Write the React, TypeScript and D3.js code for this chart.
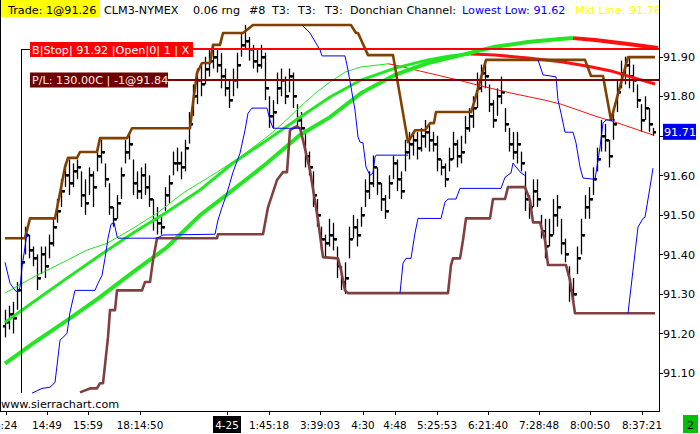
import React from 'react';
import * as d3 from 'd3';

// ---------- DATA ----------
const barHigh = [91.26,91.27,91.28,91.33,91.40,91.47,91.45,91.42,91.40,91.42,91.42,91.45,91.49,91.54,91.59,91.63,91.64,91.63,91.64,91.61,91.59,91.62,91.61,91.67,91.69,91.63,91.58,91.52,91.55,91.62,91.69,91.71,91.64,91.61,91.62,91.63,91.60,91.54,91.52,91.50,91.57,91.60,91.66,91.67,91.66,91.69,91.76,91.83,91.87,91.88,91.90,91.92,91.93,91.92,91.91,91.87,91.84,91.87,91.91,91.96,91.98,91.95,91.93,91.92,91.93,91.91,91.80,91.79,91.86,91.87,91.85,91.87,91.86,91.78,91.76,91.71,91.66,91.61,91.54,91.47,91.45,91.49,91.48,91.42,91.37,91.38,91.47,91.50,91.49,91.52,91.59,91.61,91.65,91.62,91.58,91.55,91.60,91.65,91.64,91.61,91.69,91.71,91.71,91.71,91.72,91.74,91.73,91.71,91.70,91.64,91.63,91.67,91.71,91.69,91.70,91.75,91.77,91.80,91.86,91.88,91.89,91.83,91.79,91.82,91.85,91.77,91.72,91.71,91.71,91.66,91.61,91.55,91.59,91.59,91.50,91.49,91.49,91.54,91.55,91.49,91.44,91.37,91.34,91.42,91.49,91.55,91.57,91.62,91.67,91.74,91.73,91.69,91.76,91.84,91.89,91.90,91.90,91.88,91.83,91.78,91.80,91.77,91.72];
const barLow = [91.19,91.21,91.20,91.26,91.32,91.40,91.39,91.37,91.31,91.35,91.34,91.39,91.42,91.48,91.52,91.57,91.55,91.57,91.59,91.52,91.50,91.55,91.52,91.61,91.63,91.57,91.50,91.47,91.49,91.54,91.63,91.64,91.55,91.54,91.54,91.55,91.52,91.46,91.45,91.45,91.51,91.53,91.60,91.61,91.59,91.61,91.68,91.75,91.78,91.80,91.83,91.85,91.87,91.86,91.82,91.80,91.77,91.80,91.82,91.90,91.92,91.89,91.87,91.86,91.87,91.79,91.72,91.72,91.78,91.80,91.78,91.81,91.77,91.72,91.70,91.62,91.60,91.52,91.47,91.41,91.39,91.42,91.41,91.34,91.31,91.30,91.39,91.44,91.42,91.47,91.52,91.54,91.57,91.55,91.51,91.49,91.54,91.59,91.56,91.54,91.61,91.64,91.65,91.64,91.66,91.67,91.66,91.66,91.61,91.60,91.57,91.61,91.64,91.62,91.63,91.68,91.71,91.72,91.77,91.81,91.82,91.76,91.72,91.75,91.78,91.71,91.66,91.64,91.63,91.61,91.51,91.49,91.52,91.52,91.44,91.39,91.42,91.45,91.47,91.40,91.38,91.28,91.28,91.35,91.40,91.49,91.49,91.55,91.61,91.66,91.66,91.62,91.69,91.76,91.82,91.83,91.82,91.81,91.77,91.71,91.74,91.71,91.70];
const barClose = [91.23,91.25,91.24,91.31,91.38,91.45,91.41,91.39,91.34,91.40,91.37,91.43,91.47,91.51,91.56,91.60,91.58,91.61,91.62,91.55,91.53,91.60,91.57,91.65,91.66,91.59,91.52,91.49,91.53,91.60,91.66,91.68,91.58,91.56,91.60,91.57,91.54,91.49,91.48,91.47,91.55,91.58,91.63,91.63,91.62,91.67,91.73,91.80,91.84,91.83,91.87,91.89,91.90,91.88,91.85,91.82,91.79,91.84,91.88,91.93,91.94,91.92,91.89,91.88,91.90,91.82,91.75,91.76,91.82,91.84,91.80,91.85,91.80,91.74,91.72,91.65,91.62,91.55,91.50,91.44,91.43,91.45,91.44,91.37,91.33,91.34,91.44,91.47,91.45,91.50,91.56,91.58,91.62,91.58,91.54,91.51,91.58,91.63,91.59,91.56,91.66,91.68,91.69,91.67,91.70,91.71,91.69,91.68,91.64,91.62,91.59,91.64,91.68,91.65,91.66,91.72,91.75,91.77,91.82,91.86,91.85,91.78,91.74,91.80,91.81,91.73,91.68,91.66,91.68,91.63,91.54,91.52,91.56,91.54,91.46,91.42,91.45,91.50,91.52,91.43,91.40,91.31,91.30,91.39,91.45,91.52,91.54,91.59,91.64,91.70,91.69,91.65,91.73,91.81,91.86,91.88,91.85,91.84,91.79,91.74,91.77,91.73,91.71];
const firstOpen = 91.22;

// Donchian upper (highest high) [bar index, price]
const upperChannel: [number, number][] = [[0,91.441],[5,91.441],[6.25,91.491],[12.5,91.491],[13.75,91.555],[15,91.621],[15.75,91.644],[18,91.644],[18.75,91.659],[23,91.659],[23.75,91.694],[30.5,91.694],[31.75,91.719],[46.25,91.719],[47,91.783],[48,91.859],[49.25,91.884],[51.25,91.884],[52,91.930],[53.75,91.930],[54.5,91.960],[59.5,91.960],[62,91.980],[86.5,91.980],[87.75,91.960],[88.25,91.960],[90.75,91.904],[97,91.904],[100.75,91.684],[102.5,91.714],[105,91.714],[106.25,91.732],[107.25,91.732],[107.75,91.760],[116.5,91.760],[117.25,91.783],[120.25,91.892],[145,91.892],[146.5,91.851],[149.5,91.851],[151.5,91.740],[155.75,91.899],[162.5,91.899]];

// lower channel
const lowerChannel: [number, number][] = [[18.75,91.051],[21.25,91.061],[23,91.061],[23.75,91.074],[24.5,91.074],[25.75,91.190],[26.25,91.259],[27.5,91.259],[28,91.309],[34.25,91.309],[35,91.330],[36.25,91.330],[37,91.385],[38,91.441],[53,91.441],[53.25,91.451],[64.5,91.451],[65.75,91.519],[68,91.588],[69.5,91.608],[70.5,91.608],[71.25,91.714],[72,91.719],[73,91.724],[73.75,91.719],[74.5,91.689],[76.25,91.613],[78.25,91.487],[79.5,91.393],[83.25,91.390],[84,91.360],[85,91.309],[85.75,91.302],[110.75,91.302],[111.5,91.373],[112,91.390],[113.75,91.390],[114.5,91.436],[115.25,91.491],[121.25,91.491],[122,91.540],[125,91.540],[125.75,91.570],[130,91.570],[131.25,91.537],[132,91.481],[133.75,91.481],[135,91.436],[135.75,91.373],[140.25,91.373],[141.25,91.335],[142.5,91.251],[162.5,91.251]];

// blue line (lowest low), drawn in pieces
const blueSegments: [number, number][][] = [
  [[0,91.380],[1.25,91.327],[2.5,91.309],[3.25,91.304],[3.75,91.317],[4.25,91.367],[5.5,91.454]],
  [[6.75,91.049],[9.25,91.061],[11.25,91.064],[12.5,91.076],[13.75,91.183],[15.5,91.200],[16.25,91.254],[17.5,91.309],[22.5,91.309],[23.25,91.327],[24.25,91.347],[25,91.390],[25.75,91.441],[26.5,91.476],[27.25,91.481],[28,91.446],[28.25,91.441],[38,91.441],[39.5,91.449],[52.5,91.451],[53.25,91.487],[54.25,91.519],[55.5,91.555],[57,91.608],[58.75,91.656],[60,91.714],[60.75,91.757],[61.75,91.770],[65.5,91.770],[66.25,91.740],[67,91.719],[73.75,91.719]],
  [[74.25,91.980],[76.25,91.960],[78.75,91.917],[79.25,91.902],[85,91.902],[85.75,91.866],[86.5,91.823],[87.5,91.765],[88.25,91.697],[88.75,91.684],[89.5,91.682],[90.25,91.621],[91.25,91.600],[92,91.606],[92.5,91.646],[92.75,91.651],[100.75,91.651]],
  [[98.75,91.302],[99.5,91.378],[100.25,91.390],[101.5,91.390],[102.5,91.454],[103.25,91.491],[109,91.491],[110,91.532],[110.75,91.540],[112.75,91.540],[113.75,91.567],[124,91.567],[125,91.595],[126.5,91.606],[127,91.631],[127.75,91.621],[129,91.606],[130,91.600]],
  [[133.25,91.892],[134.5,91.854],[137.75,91.849],[138.25,91.790],[139,91.757],[140,91.709],[142,91.709],[142.75,91.682],[143.75,91.621],[144.5,91.593],[147.5,91.590],[148.25,91.638],[148.75,91.671],[149.5,91.732],[150.25,91.740],[152.5,91.740]],
  [[155.75,91.251],[157,91.360],[158.25,91.469],[159.5,91.491],[160,91.494],[161.25,91.570],[162,91.618]],
];

// moving averages; color turns red after the peak index
const maThin: [number, number][] = [[0,91.302],[7,91.342],[15.5,91.385],[20.5,91.411],[25.5,91.428],[32,91.466],[38,91.504],[44.5,91.555],[53,91.608],[58.75,91.646],[65.5,91.697],[69.5,91.732],[73.75,91.773],[78,91.811],[81.25,91.836],[85,91.861],[89,91.874],[93.25,91.879],[95.75,91.882],[97.5,91.879],[101.5,91.869],[105.75,91.859],[113.25,91.841],[118.25,91.828],[126.5,91.808],[135,91.790],[139,91.780],[147.5,91.750],[153.25,91.732],[162,91.702]];
const maThinPeak = 18;
const maMid: [number, number][] = [[0,91.228],[7,91.279],[15.5,91.340],[23.75,91.398],[32,91.454],[40.5,91.507],[48.75,91.563],[57,91.631],[65.5,91.689],[73.75,91.747],[81.25,91.798],[89,91.841],[97.5,91.871],[105.75,91.892],[111.25,91.902],[116.5,91.907],[122.5,91.904],[130.75,91.897],[139,91.887],[145.75,91.876],[151.5,91.864],[155.75,91.851],[162.5,91.831]];
const maMidPeak = 15;
const maThick: [number, number][] = [[0,91.124],[7,91.175],[15.5,91.233],[23.75,91.292],[32,91.355],[40.5,91.418],[48.75,91.499],[57,91.563],[65.5,91.631],[73.75,91.702],[81.25,91.747],[89,91.808],[97.5,91.854],[105.75,91.884],[114,91.904],[122.5,91.925],[130.75,91.937],[138.75,91.945],[142,91.947],[147.5,91.942],[155.75,91.932],[163.25,91.922]];
const maThickPeak = 18;

const yTicks = [91.10, 91.20, 91.30, 91.40, 91.50, 91.60, 91.70, 91.80, 91.90];
const timeLabels = ['4:24','14:49','15:59','18:14:50','4-25','1:45:18','3:39:03','4:30','4:48','5:25:53','6:21:40','7:28:48','8:00:50','8:37:21'];
const timeLabelBars = [0.15, 10.5, 20.75, 33.75, 55.5, 66, 78.75, 89.5, 97.5, 108, 120.75, 133.5, 146.25, 159.25];
const dateLabel = '4-25';

const entryBar = 4;
const stopPrice = 91.92;
const plPrice = 91.84;
const lastPrice = 91.71;

const headerParts: { text: string; color: string; x: number }[] = [
  { text: 'Trade: 1@91.26', color: '#000', x: 8 },
  { text: 'CLM3-NYMEX', color: '#000', x: 104 },
  { text: '0.06 rng', color: '#000', x: 193 },
  { text: '#8', color: '#000', x: 249 },
  { text: 'T3:', color: '#000', x: 272 },
  { text: 'T3:', color: '#000', x: 298 },
  { text: 'T3:', color: '#000', x: 325 },
  { text: 'Donchian Channel:', color: '#000', x: 350 },
  { text: 'Lowest Low: 91.62', color: '#0000ff', x: 462 },
  { text: 'Mid Line: 91.76', color: '#ffff00', x: 575 },
];

const FONT = "'DejaVu Sans', Verdana, sans-serif";

export default function App() {
  const plotRight = 659;
  const plotBottom = 412;
  const clipBottom = 394;
  const x = d3.scaleLinear().domain([0, 162]).range([5, 653]);
  const y = d3.scaleLinear().domain([91.10, 91.90]).range([373, 56.7]);
  const line = d3.line<[number, number]>().x(d => x(d[0])).y(d => y(d[1]));

  const maParts = (pts: [number, number][], peak: number) => [pts.slice(0, peak + 1), pts.slice(peak)];
  const [thinUp, thinDn] = maParts(maThin, maThinPeak);
  const [midUp, midDn] = maParts(maMid, maMidPeak);
  const [thkUp, thkDn] = maParts(maThick, maThickPeak);

  const GREEN = '#22e622';
  const RED = '#ff1010';

  const entryX = Math.round(x(entryBar)) + 0.5;
  const stopY = Math.round(y(stopPrice));
  const plY = Math.round(y(plPrice));
  const boxL = entryX + 8.5;
  const hiddenTick = 91.70;

  return (
    <svg width={700} height={434} style={{ position: 'absolute', left: 0, top: 0, background: '#fff' }} fontFamily={FONT}>
      <defs>
        <clipPath id="plot"><rect x={1} y={18} width={plotRight - 1} height={clipBottom - 18} /></clipPath>
        <clipPath id="hdr"><rect x={0} y={0} width={plotRight} height={20} /></clipPath>
      </defs>
      <rect x={0} y={0} width={700} height={434} fill="#fff" />

      <g clipPath="url(#plot)">
        {/* price bars */}
        {barHigh.map((h, i) => {
          const cx = Math.round(x(i)) + 0.5;
          const open = i === 0 ? firstOpen : barClose[i - 1];
          return (
            <g key={i}>
              <line x1={cx} x2={cx} y1={y(h)} y2={y(barLow[i])} stroke="#000" strokeWidth={1.3} />
              <rect x={cx - 2.5} y={Math.round(y(open)) - 1} width={2} height={2.5} fill="#000" />
              <rect x={cx + 0.5} y={Math.round(y(barClose[i])) - 1} width={2} height={2.5} fill="#000" />
            </g>
          );
        })}

        {/* moving averages */}
        <path d={line(thinUp) || ''} fill="none" stroke={GREEN} strokeWidth={1} />
        <path d={line(thinDn) || ''} fill="none" stroke={RED} strokeWidth={1} />
        <path d={line(midUp) || ''} fill="none" stroke={GREEN} strokeWidth={3} />
        <path d={line(midDn) || ''} fill="none" stroke={RED} strokeWidth={3} />
        <path d={line(thkUp) || ''} fill="none" stroke={GREEN} strokeWidth={4} />
        <path d={line(thkDn) || ''} fill="none" stroke={RED} strokeWidth={4} />

        {/* channels */}
        <path d={line(upperChannel) || ''} fill="none" stroke="#804000" strokeWidth={2.6} strokeLinejoin="round" />
        <path d={line(lowerChannel) || ''} fill="none" stroke="#804040" strokeWidth={2.6} strokeLinejoin="round" />
        {blueSegments.map((s, k) => (
          <path key={k} d={line(s) || ''} fill="none" stroke="#0000ff" strokeWidth={1} />
        ))}

        {/* trade marker */}
        <line x1={entryX} x2={entryX} y1={stopY} y2={clipBottom - 1} stroke="#000" strokeWidth={1} />
        <line x1={entryX} x2={boxL} y1={stopY + 0.5} y2={stopY + 0.5} stroke="#000" strokeWidth={1} />
      </g>

      {/* stop line & box */}
      <line x1={boxL + 150} x2={plotRight} y1={stopY} y2={stopY} stroke="#ff0000" strokeWidth={2} />
      <rect x={boxL} y={stopY - 7} width={163} height={15} fill="#ff0000" />
      <text x={boxL + 2} y={stopY + 4.5} fontSize={11.2} fill="#fff">B|Stop| 91.92 |Open|0| 1 | X</text>

      {/* P/L line & box */}
      <line x1={boxL + 130} x2={plotRight} y1={plY} y2={plY} stroke="#800000" strokeWidth={2} />
      <rect x={boxL} y={plY - 7.5} width={138} height={15} fill="#6e0000" />
      <text x={boxL + 2} y={plY + 4} fontSize={11.2} fill="#ffeaea">P/L: 130.00C | -1@91.84</text>

      {/* header */}
      <g clipPath="url(#hdr)">
        <rect x={0} y={0} width={100} height={17} fill="#ffff00" />
        {headerParts.map((p, i) => (
          <text key={i} x={p.x} y={14} fontSize={11.2} fill={p.color}>{p.text}</text>
        ))}
      </g>

      {/* borders */}
      <line x1={0.5} x2={0.5} y1={0} y2={plotBottom} stroke="#000" />
      <line x1={plotRight + 0.5} x2={plotRight + 0.5} y1={0} y2={plotBottom} stroke="#000" />
      <line x1={0} x2={plotRight + 1} y1={plotBottom - 0.5} y2={plotBottom - 0.5} stroke="#000" />

      {/* y axis */}
      {yTicks.map(t => (
        <g key={t}>
          <line x1={plotRight} x2={plotRight + 4} y1={Math.round(y(t)) + 0.5} y2={Math.round(y(t)) + 0.5} stroke="#000" />
          {Math.abs(t - hiddenTick) > 1e-6 && (
            <text x={plotRight + 4} y={y(t) + 4.2} fontSize={11.2} fill="#000">{t.toFixed(2)}</text>
          )}
        </g>
      ))}
      <rect x={663} y={y(lastPrice) - 8} width={33} height={16} fill="#0000f0" />
      <text x={664} y={y(lastPrice) + 4.2} fontSize={11.2} fill="#fff">{lastPrice.toFixed(2)}</text>

      {/* x axis */}
      {timeLabels.map((lab, i) => {
        const tx = x(timeLabelBars[i]);
        const isDate = lab === dateLabel;
        return (
          <g key={i}>
            <line x1={Math.round(tx) + 0.5} x2={Math.round(tx) + 0.5} y1={plotBottom} y2={plotBottom + 3} stroke="#000" />
            {isDate && <rect x={tx - 14} y={plotBottom + 4} width={28} height={17} fill="#000" />}
            <text x={tx} y={plotBottom + 17} fontSize={10.4} textAnchor="middle" fill={isDate ? '#fff' : '#000'}>{lab}</text>
          </g>
        );
      })}

      <text x={1} y={407.5} fontSize={11.2} fill="#000">www.sierrachart.com</text>

      <rect x={683} y={415} width={15} height={18} fill="#00c000" />
      <text x={690.5} y={429} fontSize={11.2} textAnchor="middle" fill="#000">2</text>
    </svg>
  );
}
